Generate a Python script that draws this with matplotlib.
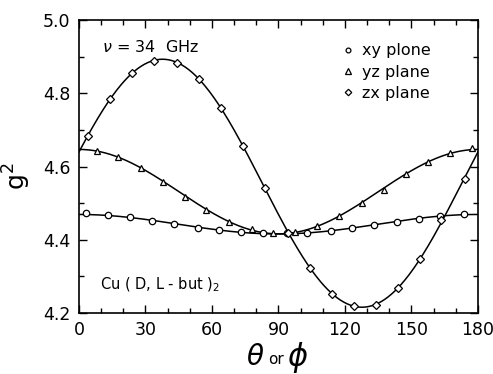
import numpy as np
import matplotlib
matplotlib.use("Agg")
import matplotlib.pyplot as plt
from matplotlib.ticker import MultipleLocator, FixedLocator

# angles (deg) and g^2 values
xy_angle = [3, 13, 23, 33, 43, 53.5, 63, 73, 83, 94, 103, 113.5, 123, 133, 143.5, 153.5, 163, 173.5]
xy_g2 = [4.472, 4.467, 4.461, 4.452, 4.442, 4.433, 4.426, 4.420, 4.419, 4.419, 4.419, 4.423,
         4.431, 4.440, 4.449, 4.458, 4.465, 4.469]

yz_angle = [8, 17.5, 28, 38, 48, 57.5, 67.5, 78, 87.5, 97.5, 107.5, 117.5, 127.5, 137.5, 147.5,
            157.5, 167.5, 177.5]
yz_g2 = [4.643, 4.625, 4.596, 4.558, 4.517, 4.481, 4.449, 4.429, 4.419, 4.422, 4.438, 4.464,
         4.499, 4.537, 4.579, 4.613, 4.637, 4.651]

zx_angle = [4, 14, 24, 34, 44, 54, 64, 74, 84, 94.5, 104, 114, 124, 134, 144, 154, 163.5, 174]
zx_g2 = [4.684, 4.783, 4.856, 4.889, 4.882, 4.840, 4.761, 4.657, 4.540, 4.419, 4.324, 4.253,
         4.219, 4.223, 4.267, 4.348, 4.455, 4.567]

series = [
    ("xy plone", xy_angle, xy_g2, "o", 4.6),
    ("yz plane", yz_angle, yz_g2, "^", 5.0),
    ("zx plane", zx_angle, zx_g2, "D", 4.4),
]

plt.rcParams["font.family"] = ["DejaVu Sans"]

fig = plt.figure(figsize=(4.93, 3.74), dpi=100)
ax = fig.add_axes([0.1602, 0.1631, 0.8093, 0.7834])

theta = np.linspace(0, 180, 361)
for label, ang, g2, marker, ms in series:
    ang = np.asarray(ang, dtype=float)
    g2 = np.asarray(g2, dtype=float)
    # fit g^2 = a + b cos(2t) + c sin(2t), like the smooth curves in the figure
    r = np.radians(ang)
    A = np.column_stack([np.ones_like(r), np.cos(2 * r), np.sin(2 * r)])
    coef, *_ = np.linalg.lstsq(A, g2, rcond=None)
    rt = np.radians(theta)
    fit = coef[0] + coef[1] * np.cos(2 * rt) + coef[2] * np.sin(2 * rt)
    ax.plot(theta, fit, color="black", linewidth=1.1, zorder=2)
    ax.plot(ang, g2, linestyle="none", marker=marker, markersize=ms,
            markerfacecolor="white", markeredgecolor="black", markeredgewidth=0.9,
            label=label, zorder=3, clip_on=False)

ax.set_xlim(0, 180)
ax.set_ylim(4.2, 5.0)
ax.xaxis.set_major_locator(MultipleLocator(30))
ax.xaxis.set_minor_locator(MultipleLocator(10))
ax.yaxis.set_major_locator(FixedLocator([4.2, 4.4, 4.6, 4.8, 5.0]))
ax.yaxis.set_minor_locator(MultipleLocator(0.1))
ax.set_yticklabels(["4.2", "4.4", "4.6", "4.8", "5.0"])
ax.tick_params(which="both", direction="in", top=True, right=True, width=1.0)
ax.tick_params(which="major", length=6, labelsize=12.5, pad=6)
ax.tick_params(which="minor", length=3.5)
for s in ax.spines.values():
    s.set_linewidth(1.2)

leg = ax.legend(loc="upper left", bbox_to_anchor=(0.625, 0.97), frameon=False,
                fontsize=11.5, handlelength=0.6, handletextpad=0.6, labelspacing=0.4,
                markerscale=0.75)

ax.text(10.4, 4.926, r"$\nu$ = 34  GHz", fontsize=11.5, va="center", ha="left")
ax.text(9.5, 4.276, "Cu ( D, L - but )$_2$", fontsize=10.5, va="center", ha="left")

# x label: big theta / phi, small "or"
fig.text(0.537, 0.045, r"$\theta$", fontsize=20, ha="right", va="center")
fig.text(0.56, 0.04, "or", fontsize=11, ha="center", va="center")
fig.text(0.582, 0.045, r"$\phi$", fontsize=22, ha="left", va="center")
fig.text(0.035, 0.53, "g$^2$", fontsize=18, rotation=90, ha="center", va="center")

fig.savefig("out.png", dpi=100)
